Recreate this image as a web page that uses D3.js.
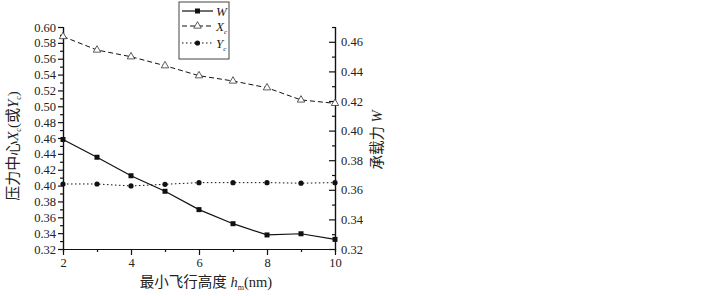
<!DOCTYPE html>
<html>
<head>
<meta charset="utf-8">
<script src="https://cdn.jsdelivr.net/npm/d3@7"></script>
<style>
  body { margin: 0; background: #fff; }
  svg text { font-family: "Liberation Serif", "Noto Sans CJK SC", serif; fill: #222; }
</style>
</head>
<body>
<div id="chart"></div>
<script>
// flying height h_m (nm)
const heights = [2, 3, 4, 5, 6, 7, 8, 9, 10];
// load capacity W (right axis)
const loadW = [0.394, 0.382, 0.3695, 0.359, 0.3466, 0.3371, 0.3295, 0.3303, 0.3265];
// pressure centre Xc and Yc (left axis)
const centreX = [0.588, 0.571, 0.5625, 0.5512, 0.5386, 0.5319, 0.5234, 0.508, 0.5037];
const centreY = [0.402, 0.402, 0.3995, 0.4016, 0.4037, 0.4037, 0.4037, 0.403, 0.4037];

const xTicks = [2, 4, 6, 8, 10];
const leftTicks = d3.range(0.32, 0.6001, 0.02);
const rightTicks = d3.range(0.32, 0.4601, 0.02);

const width = 722, height = 296;
const margin = { top: 27, right: 387, bottom: 47, left: 63 };
const innerW = width - margin.left - margin.right;
const innerH = height - margin.top - margin.bottom;

const svg = d3.select("#chart").append("svg")
    .attr("width", width)
    .attr("height", height);

const g = svg.append("g")
    .attr("transform", `translate(${margin.left},${margin.top})`);

const x = d3.scaleLinear().domain([2, 10]).range([0, innerW]);
const yLeft = d3.scaleLinear().domain([0.32, 0.60]).range([innerH, 0]);
const yRight = d3.scaleLinear().domain([0.32, 0.47]).range([innerH, 0]);

// bottom axis: major + minor ticks
g.append("g")
    .attr("transform", `translate(0,${innerH})`)
    .call(d3.axisBottom(x).tickValues(d3.range(3, 10, 2)).tickSize(3).tickFormat(""));
g.append("g")
    .attr("class", "x-axis")
    .attr("transform", `translate(0,${innerH})`)
    .call(d3.axisBottom(x).tickValues(xTicks).tickSize(6).tickSizeOuter(0).tickFormat(d3.format("d")));

// left axis
g.append("g")
    .call(d3.axisLeft(yLeft).tickValues(d3.range(0.33, 0.60, 0.02)).tickSize(3).tickFormat(""));
g.append("g")
    .attr("class", "y-left")
    .call(d3.axisLeft(yLeft).tickValues(leftTicks).tickSize(5).tickSizeOuter(0).tickFormat(d3.format(".2f")));

// right axis, ticks inward
g.append("g")
    .attr("transform", `translate(${innerW},0)`)
    .call(d3.axisRight(yRight).tickValues(d3.range(0.33, 0.471, 0.02)).tickSize(-3).tickFormat(""));
g.append("g")
    .attr("class", "y-right")
    .attr("transform", `translate(${innerW},0)`)
    .call(d3.axisRight(yRight).tickValues(rightTicks).tickSize(-6).tickSizeOuter(0).tickFormat(d3.format(".2f")));

svg.selectAll(".domain, .tick line").attr("stroke", "#111").attr("stroke-width", 1.2);
svg.selectAll(".tick text").style("font-size", "12.5px").attr("fill", "#222");
g.selectAll(".y-right .tick text").attr("x", 6);
g.selectAll(".y-left .tick text").attr("x", -7);
g.selectAll(".x-axis .tick text").attr("y", 9);

// lines
const lineFor = (scale, vals) => d3.line()
    .x((d, i) => x(heights[i]))
    .y(d => scale(d))(vals);

g.append("path")
    .attr("d", lineFor(yRight, loadW))
    .attr("fill", "none").attr("stroke", "#111").attr("stroke-width", 1.2);
g.append("path")
    .attr("d", lineFor(yLeft, centreX))
    .attr("fill", "none").attr("stroke", "#111").attr("stroke-width", 1)
    .attr("stroke-dasharray", "5,3");
g.append("path")
    .attr("d", lineFor(yLeft, centreY))
    .attr("fill", "none").attr("stroke", "#111").attr("stroke-width", 1)
    .attr("stroke-dasharray", "1.5,2.5");

// markers
const tri = d3.symbol().type(d3.symbolTriangle).size(24);
g.selectAll(".m-w").data(loadW).enter().append("rect")
    .attr("x", (d, i) => x(heights[i]) - 2.5)
    .attr("y", d => yRight(d) - 2.5)
    .attr("width", 5).attr("height", 5).attr("fill", "#111");
g.selectAll(".m-x").data(centreX).enter().append("path")
    .attr("d", tri)
    .attr("transform", (d, i) => `translate(${x(heights[i])},${yLeft(d)})`)
    .attr("fill", "#fff").attr("stroke", "#333").attr("stroke-width", 0.8);
g.selectAll(".m-y").data(centreY).enter().append("circle")
    .attr("cx", (d, i) => x(heights[i]))
    .attr("cy", d => yLeft(d))
    .attr("r", 2.6).attr("fill", "#111");

// axis titles
const xt = svg.append("text")
    .attr("x", 206).attr("y", 287)
    .attr("text-anchor", "middle")
    .style("font-size", "14.5px")
    .attr("fill", "#333");
xt.append("tspan").text("最小飞行高度 ");
xt.append("tspan").attr("font-style", "italic").text("h");
xt.append("tspan").attr("dy", 3).style("font-size", "8px").text("m");
xt.append("tspan").attr("dy", -3).text("(nm)");

const lt = svg.append("text")
    .attr("transform", "translate(18,146) rotate(-90)")
    .attr("text-anchor", "middle")
    .style("font-size", "15px")
    .attr("fill", "#555");
lt.append("tspan").text("压力中心");
lt.append("tspan").attr("font-style", "italic").text("X");
lt.append("tspan").attr("dy", 3).style("font-size", "8px").text("c");
lt.append("tspan").attr("dy", -3).text("(或");
lt.append("tspan").attr("font-style", "italic").text("Y");
lt.append("tspan").attr("dy", 3).style("font-size", "8px").text("c");
lt.append("tspan").attr("dy", -3).text(")");

const rt = svg.append("text")
    .attr("transform", "translate(382,140) rotate(-90)")
    .attr("text-anchor", "middle")
    .style("font-size", "14.5px")
    .attr("fill", "#555");
rt.append("tspan").text("承载力 ");
rt.append("tspan").attr("font-style", "italic").text("W");

// legend
const legend = svg.append("g").attr("transform", "translate(179,2)");
legend.append("rect")
    .attr("width", 50).attr("height", 57)
    .attr("fill", "#fff").attr("stroke", "#444").attr("stroke-width", 1);

const legendItems = [
    { name: "W", sub: "", dash: null, mark: "square" },
    { name: "X", sub: "c", dash: "5,3", mark: "triangle" },
    { name: "Y", sub: "c", dash: "1.5,2.5", mark: "circle" }
];
legendItems.forEach((d, i) => {
    const yy = [9, 24, 41][i];
    legend.append("line")
        .attr("x1", 3).attr("x2", 34).attr("y1", yy).attr("y2", yy)
        .attr("stroke", "#111").attr("stroke-width", d.mark === "square" ? 1.2 : 1)
        .attr("stroke-dasharray", d.dash);
    if (d.mark === "square") {
        legend.append("rect").attr("x", 16).attr("y", yy - 2.5).attr("width", 5).attr("height", 5).attr("fill", "#111");
    } else if (d.mark === "triangle") {
        legend.append("path").attr("d", tri).attr("transform", `translate(18.5,${yy})`)
            .attr("fill", "#fff").attr("stroke", "#333").attr("stroke-width", 0.8);
    } else {
        legend.append("circle").attr("cx", 18.5).attr("cy", yy).attr("r", 2.6).attr("fill", "#111");
    }
    const t = legend.append("text").attr("x", 37).attr("y", yy + 4.5).style("font-size", "13px");
    t.append("tspan").attr("font-style", "italic").text(d.name);
    if (d.sub) t.append("tspan").attr("dy", 3).style("font-size", "7px").attr("font-style", "italic").text(d.sub);
});
</script>
</body>
</html>
